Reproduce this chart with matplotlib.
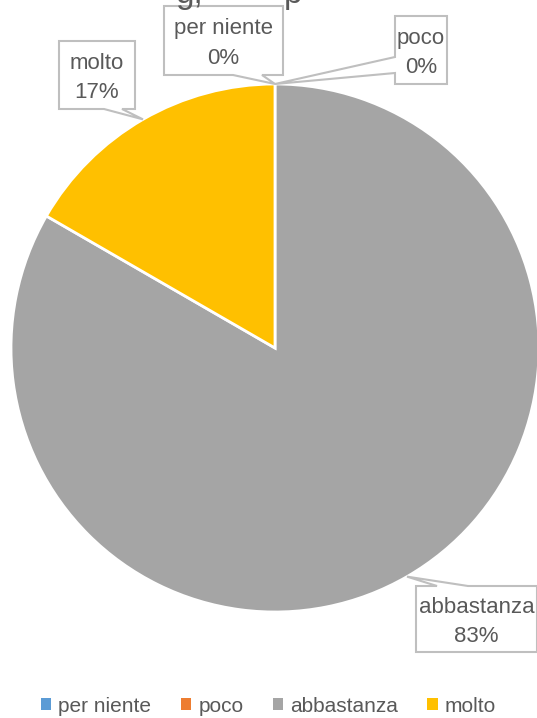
import numpy as np
import matplotlib.pyplot as plt
from matplotlib.patches import Polygon, Patch

W, H = 537, 718

categorie = ['per niente', 'poco', 'abbastanza', 'molto']
risposte = [0, 0, 5, 1]
colori = ['#5B9BD5', '#ED7D31', '#A5A5A5', '#FFC000']

TXT = '#595959'
BORDO = '#BFBFBF'
FONT = 'Liberation Sans'

fig = plt.figure(figsize=(W / 100, H / 100), dpi=100)
ax = fig.add_axes([0, 0, 1, 1])

cx, cy, r = 275, H - 348, 264  # centro e raggio della torta

wedges, _ = ax.pie(risposte, colors=colori, startangle=90, counterclock=False,
                   center=(cx, cy), radius=r, normalize=True,
                   wedgeprops=dict(edgecolor='white', linewidth=2))

# pie() cambia i limiti, li rimetto in pixel
ax.set_xlim(0, W)
ax.set_ylim(0, H)
ax.set_aspect('equal')
ax.axis('off')


def Y(y):
    return H - y


def callout(box, side, base, tip, testo):
    """ box = (x0, y0, x1, y1) in pixel dall'alto, base = due punti sul lato """
    x0, y0, x1, y1 = box
    b0, b1 = base
    if side == 'bottom':
        pts = [(x0, y0), (x1, y0), (x1, y1), (b1, y1), tip, (b0, y1), (x0, y1)]
    elif side == 'top':
        pts = [(x0, y0), (b0, y0), tip, (b1, y0), (x1, y0), (x1, y1), (x0, y1)]
    else:  # left
        pts = [(x0, y0), (x1, y0), (x1, y1), (x0, y1), (x0, b1), tip, (x0, b0)]
    pts = [(px, Y(py)) for px, py in pts]
    ax.add_patch(Polygon(pts, closed=True, facecolor='white', edgecolor=BORDO,
                         linewidth=1.5, zorder=5, clip_on=False))
    ax.text((x0 + x1) / 2, Y((y0 + y1) / 2 + 3), testo, ha='center', va='center',
            fontsize=16, color=TXT, family=FONT, linespacing=1.55, zorder=6)


totale = sum(risposte)
punte = []
for w in wedges:
    a = np.radians((w.theta1 + w.theta2) / 2)
    punte.append((cx + r * np.cos(a), H - (cy + r * np.sin(a))))

etichette = [f'{c}\n{round(v / totale * 100)}%' for c, v in zip(categorie, risposte)]

callout((164, 6, 283, 75), 'bottom', (233, 262), punte[0], etichette[0])
callout((395, 16, 447, 84), 'left', (57, 73), punte[1], etichette[1])
callout((416, 586, 537, 652), 'top', (437, 468), punte[2], etichette[2])
callout((59, 41, 135, 109), 'bottom', (104, 122), punte[3], etichette[3])

# titolo tagliato in alto
fig.text(176 / W, 1 - 3 / H, 'g,', fontsize=24, color=TXT, family=FONT, va='baseline')
fig.text(284 / W, 1 - 3 / H, 'p', fontsize=24, color=TXT, family=FONT, va='baseline')

maniglie = [Patch(facecolor=c, edgecolor='none') for c in colori]
leg = fig.legend(maniglie, categorie, loc='center', bbox_to_anchor=(0.5, 1 - 706 / H),
                 ncol=4, frameon=False, handlelength=0.5, handleheight=0.5,
                 handletextpad=0.35, columnspacing=1.4,
                 prop=dict(family=FONT, size=15))
for t in leg.get_texts():
    t.set_color(TXT)

fig.savefig('out.png', dpi=100)
